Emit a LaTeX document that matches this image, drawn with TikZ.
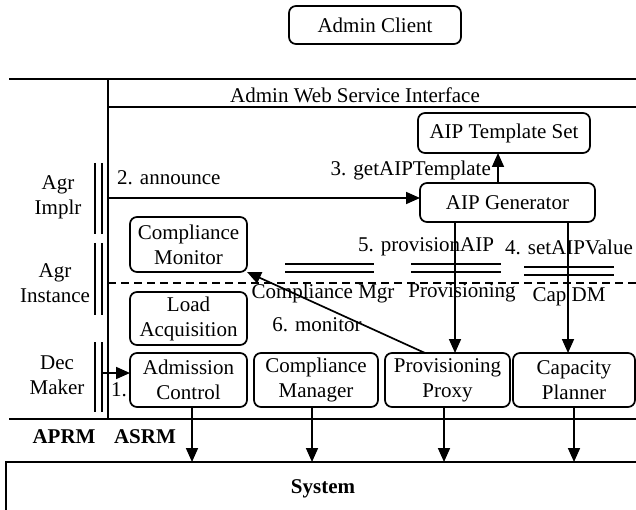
\documentclass[tikz,border=0pt]{standalone}
\usepackage{fontspec}
\setmainfont{Liberation Serif}
\usetikzlibrary{arrows.meta,positioning,calc}

\begin{document}
\begin{tikzpicture}[
      x=1pt, y=-1pt,
      font=\fontsize{21}{25}\selectfont,
      node distance=8pt and 7pt,
      box/.style={rounded corners=7pt, draw, line width=1.7pt, outer sep=0pt, inner sep=2pt, align=center, minimum height=54pt},
      lbl/.style={inner sep=1pt, align=center},
      bold/.style={inner sep=1pt, font=\fontsize{21}{25}\selectfont\bfseries},
      arr/.style={-{Triangle[length=14pt,width=12pt]}, line width=1.7pt},
      ln/.style={line width=1.7pt}
    ]
      \useasboundingbox (0,0) rectangle (636,510);

      \node[box, minimum width=172pt, minimum height=38pt] (client) at (375,25) {Admin Client};

      \draw[ln] (9,79) -- (640,79);
      \draw[ln] (108,107) -- (640,107);
      \draw[ln] (108,79) -- (108,419);
      \draw[ln] (9,419) -- (640,419);
      \draw[line width=1.4pt, dash pattern=on 8pt off 5pt] (108,283) -- (640,283);
      \node[lbl] (wsi) at (355,95) {Admin Web Service Interface};

      \node[box, minimum width=172pt, minimum height=40pt] (tmpl) at (504,133) {AIP Template Set};
      \node[box, minimum width=175pt, minimum height=39pt] (gen) at (507.5,202.5) {AIP Generator};

      \node[box, minimum width=117pt] (adm) at (188.5,380) {Admission\\Control};
      \node[box, minimum width=117pt, minimum height=53pt, above=of adm] (load) {Load\\Acquisition};
      \node[box, minimum width=117pt, minimum height=55pt, above=20pt of load] (cmon) {Compliance\\Monitor};
      \node[box, minimum width=124pt, right=of adm] (cmgr) {Compliance\\Manager};
      \node[box, minimum width=125pt, right=of cmgr] (pprox) {Provisioning\\Proxy};
      \node[box, minimum width=122pt, right=3pt of pprox] (cap) {Capacity\\Planner};

      \node[draw, line width=1.7pt, outer sep=0pt, minimum width=634pt, minimum height=53pt, font=\fontsize{21}{25}\selectfont\bfseries] (sys) at (323,488.5) {System};

      \draw[ln] (95,163) -- (95,234) (102,163) -- (102,234);
      \draw[ln] (95,243) -- (95,315) (102,243) -- (102,315);
      \draw[ln] (95,342) -- (95,412) (102,342) -- (102,412);
      \node[lbl] (implr) at (58,197) {Agr\\Implr};
      \node[lbl] (inst) at (55,283) {Agr\\Instance};
      \node[lbl] (dec) at (57,375) {Dec\\Maker};

      \draw[ln] (285,264) -- (374,264) (285,272) -- (374,272);
      \draw[ln] (411,264) -- (501,264) (411,272) -- (501,272);
      \draw[ln] (524,267) -- (614,267) (524,275) -- (614,275);
      \node[lbl] (cmgrdb) at (323,293) {Compliance Mgr};
      \node[lbl] (provdb) at (462,293) {Provisioning};
      \node[lbl] (capdb) at (569,297) {Cap DM};

      \coordinate (annS) at (108,198);
      \coordinate (decS) at (102,373);
      \draw[arr] (annS) -- (annS -| gen.west);
      \draw[arr] ([xshift=-9.5pt]gen.north) -- ([xshift=-9.5pt]gen.north |- tmpl.south);
      \draw[arr] ([xshift=-52.5pt]gen.south) -- ([xshift=-52.5pt]gen.south |- pprox.north);
      \draw[arr] ([xshift=60.5pt]gen.south) -- ([xshift=60.5pt]gen.south |- cap.north);
      \draw[arr] ([xshift=-22.5pt]pprox.north) -- (cmon.south east);
      \draw[arr] (decS) -- (decS -| adm.west);

      \node[lbl, anchor=west] (ann) at (116,178) {2. announce};
      \node[lbl, anchor=east] (get) at (492,170) {3. getAIPTemplate};
      \node[lbl] (prov) at (426,247) {5. provisionAIP};
      \node[lbl] (setv) at (569,247) {4. setAIPValue};
      \node[lbl] (mon) at (317,325) {6. monitor};
      \node[lbl] (one) at (119,390) {1.};

      \draw[arr] ([xshift=3.5pt]adm.south) -- ([xshift=3.5pt]adm.south |- sys.north);
      \draw[arr] ([xshift=-4pt]cmgr.south) -- ([xshift=-4pt]cmgr.south |- sys.north);
      \draw[arr] ([xshift=-3.5pt]pprox.south) -- ([xshift=-3.5pt]pprox.south |- sys.north);
      \draw[arr] (cap.south) -- (cap.south |- sys.north);

      \node[bold] (aprm) at (64,437) {APRM};
      \node[bold] (asrm) at (145,437) {ASRM};
    \end{tikzpicture}
\end{document}
